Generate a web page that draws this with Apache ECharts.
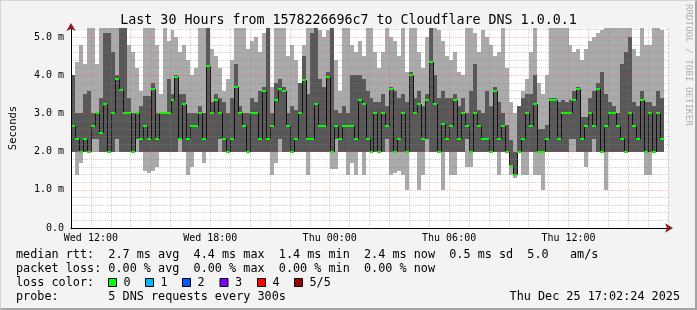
<!DOCTYPE html>
<html><head><meta charset="utf-8">
<script src="https://cdn.jsdelivr.net/npm/echarts@6/dist/echarts.min.js"></script>
<style>
html,body{margin:0;padding:0;background:#f3f3f3;}
#wrap{position:relative;width:697px;height:310px;}
#chart{width:697px;height:310px;}
#frame{position:absolute;left:0;top:0;width:697px;height:310px;box-sizing:border-box;border-style:solid;border-width:1px 2px 2px 1px;border-color:#d4d4d4 #a3a3a3 #a3a3a3 #d4d4d4;pointer-events:none;}
</style></head><body>
<div id="wrap"><div id="chart"></div><div id="frame"></div></div>
<script>
// ---- data (ms), one entry per 12-minute step starting Wed 11:00 ----
const START_HOUR = 11;
const STEP_HOURS = 0.2;

const medianRtt = [
  2.67,2.33,2.0,2.33,2.0,2.67,3.0,2.5,3.25,2.0, 3.0,3.9,3.62,3.0,3.0,2.0,3.0,2.33,2.67,2.33,
  3.63,2.33,3.0,3.0,3.0,3.35,3.96,2.33,3.25,2.33, 2.67,2.67,3.0,2.33,4.25,3.0,3.35,3.0,
  2.33,2.0,2.33,3.7,3.0,2.67,2.0,3.0,3.0,2.33, 3.6,2.33,2.67,3.35,3.63,3.6,2.67,2.0,2.33,3.0,
  3.87,2.33,2.33,3.25,2.67,2.67,3.96,2.0,2.67,2.33, 2.67,2.67,2.67,2.33,3.35,3.25,2.33,2.0,3.0,
  2.0,3.0,2.67,3.63,2.0,2.33,3.0,2.0,4.0,3.0, 3.25,2.33,3.35,4.35,3.25,2.0,2.72,2.33,2.67,3.35,
  2.33,3.0,2.67,2.0,3.0,2.67,2.33,2.33,2.0,3.6, 2.33,2.67,2.0,1.62,1.38,2.0,2.33,3.0,
  2.67,3.25,2.0,2.0,2.33,3.35,3.35,2.33,3.0,3.0, 3.0,3.35,3.63,2.33,2.67,3.0,2.67,3.63,2.0,2.67,
  3.0,3.0,2.67,2.33,2.0,3.0,2.67,2.33,3.35,2.0, 3.0,2.0,3.0,2.33
];
const smokeLow = [
  2.0,1.4,1.7,2.0,2.0,2.0,2.0,2.0,2.0,2.0, 2.0,2.0,2.0,2.0,2.0,2.0,2.0,2.0,1.5,1.45,
  1.5,1.6,2.0,2.0,2.0,2.0,2.0,2.0,2.0,1.4, 1.6,2.0,2.0,1.7,2.0,2.0,2.0,2.0,
  2.0,2.0,2.0,2.0,2.0,2.0,2.0,2.0,2.0,2.0, 2.0,2.0,1.4,1.7,2.0,2.0,2.0,2.0,2.0,2.0,
  2.0,1.4,2.0,2.0,2.0,2.0,2.0,1.55,1.55,2.0, 2.0,1.4,1.7,1.4,2.0,1.4,2.0,2.0,2.0,
  2.0,2.0,2.0,1.4,1.45,1.5,1.4,1.0,2.0,2.0, 1.0,1.4,2.0,2.0,2.0,2.0,1.0,2.0,1.4,1.4,
  2.0,2.0,1.6,1.6,2.0,2.0,2.0,2.0,2.0,2.0, 1.4,2.0,2.0,1.4,1.3,2.0,1.4,1.4,
  2.0,1.4,1.4,1.0,2.0,2.0,2.0,2.0,2.0,2.0, 2.0,2.0,2.0,2.0,1.6,2.0,2.0,2.0,2.0,1.0,
  2.0,2.0,2.0,2.0,2.0,2.0,2.0,2.0,2.0,1.4, 1.4,2.0,2.0,2.0
];
const smokeInnerLow = [
  2.0,2.0,2.0,2.0,2.0,2.33,2.33,2.0,2.0,2.0, 2.0,2.33,2.0,2.0,2.0,2.0,2.33,2.0,2.0,2.0,
  2.0,2.0,2.0,2.0,2.0,2.0,2.0,2.33,2.0,2.0, 2.0,2.0,2.0,2.0,2.0,2.0,2.0,2.33,
  2.0,2.0,2.0,2.0,2.0,2.0,2.0,2.0,2.0,2.0, 2.0,2.0,2.0,2.0,2.33,2.0,2.0,2.0,2.0,2.0,
  2.0,2.0,2.0,2.0,2.0,2.0,2.0,2.0,2.33,2.0, 2.0,2.0,2.0,2.0,2.0,2.0,2.0,2.0,2.0,
  2.0,2.0,2.33,2.0,2.0,2.0,2.0,2.0,2.0,2.0, 2.0,2.0,2.33,2.0,2.0,2.0,2.0,2.0,2.0,2.0,
  2.0,2.0,2.33,2.0,2.0,2.0,2.0,2.0,2.0,2.0, 2.0,2.0,2.0,1.6,1.35,2.0,2.0,2.0,
  2.0,2.0,2.0,2.0,2.0,2.0,2.0,2.0,2.0,2.0, 2.33,2.33,2.0,2.0,2.0,2.0,2.33,2.0,2.0,2.0,
  2.0,2.0,2.0,2.0,2.0,2.0,2.0,2.0,2.0,2.0, 2.0,2.0,2.0,2.0
];
const smokeInnerHigh = [
  4.0,3.0,3.0,3.5,3.6,3.0,3.0,3.4,5.1,5.1, 4.6,4.0,5.3,5.3,3.4,3.0,3.0,3.2,3.45,3.45,
  3.8,3.0,3.0,3.05,3.9,3.5,4.0,3.5,3.5,3.0, 3.0,3.0,3.2,3.0,5.3,3.3,3.5,3.4,
  3.3,3.0,3.4,4.3,3.2,3.0,3.0,3.4,3.3,3.6, 3.7,5.3,3.0,3.8,3.9,3.7,3.0,3.2,3.1,3.8,
  4.5,3.5,5.1,5.3,3.9,3.7,4.1,5.3,3.1,3.0, 3.2,3.0,4.0,4.0,4.0,3.9,3.6,3.4,3.3,
  3.3,3.5,3.2,3.7,3.6,3.4,3.5,3.3,4.1,3.4, 3.6,3.2,3.5,5.3,4.0,3.4,3.6,3.4,3.4,3.5,
  3.2,3.4,3.0,3.6,4.3,3.1,3.0,3.6,3.2,3.7, 3.3,3.0,2.7,2.3,2.0,3.2,3.4,3.5,
  3.5,4.0,2.6,2.6,2.7,3.4,3.4,3.3,3.35,3.3, 3.35,3.6,3.7,2.9,2.9,3.4,3.6,3.8,4.1,3.5,
  3.3,3.2,3.0,4.3,4.6,5.0,3.3,3.2,3.6,3.3, 3.3,3.2,3.6,3.4
];
const smokeHigh = [
  4.0,4.35,4.8,4.3,5.3,5.3,4.3,5.3,5.3,5.3, 5.3,5.3,5.3,5.3,4.8,4.6,4.2,3.6,5.3,5.3,
  5.3,4.8,3.5,5.3,4.9,5.2,5.0,4.6,4.8,4.4, 4.0,4.2,5.3,5.3,5.3,4.7,4.5,4.2,
  3.6,3.9,4.4,5.3,5.3,5.3,4.7,4.9,5.0,4.6, 5.1,5.3,3.7,5.3,5.3,5.3,4.5,4.8,4.4,3.8,
  4.8,5.3,5.3,5.3,5.2,5.0,5.2,5.3,4.4,3.6, 5.3,5.3,4.8,4.6,4.9,4.5,5.3,5.3,4.6,
  4.2,4.6,5.3,5.0,4.9,4.5,5.3,4.1,5.3,5.3, 4.6,4.2,5.0,5.3,5.3,5.2,4.9,4.5,4.4,4.6,
  4.1,4.0,5.3,5.3,5.1,4.6,5.2,5.0,4.8,4.5, 4.6,5.3,4.2,3.3,3.0,3.2,3.6,3.9,
  4.6,5.3,3.8,3.5,4.0,5.3,5.3,5.3,5.3,5.3, 4.8,4.6,4.7,4.4,4.7,4.9,5.0,5.1,5.2,5.3,
  5.3,5.3,5.3,5.3,5.3,5.3,4.7,4.5,5.3,4.8, 4.8,5.3,5.3,5.2
];

// ---- axes / text ----
const xTickHours = [12, 18, 24, 30, 36];
const xTickLabels = ['Wed 12:00', 'Wed 18:00', 'Thu 00:00', 'Thu 06:00', 'Thu 12:00'];
const yTickValues = [0, 1, 2, 3, 4, 5];
const yTickLabels = ['0.0', '1.0 m', '2.0 m', '3.0 m', '4.0 m', '5.0 m'];
const TITLE = 'Last 30 Hours from 1578226696c7 to Cloudflare DNS 1.0.0.1';
const legendLines = [
  'median rtt:  2.7 ms avg  4.4 ms max  1.4 ms min  2.4 ms now  0.5 ms sd  5.0   am/s',
  'packet loss: 0.00 % avg  0.00 % max  0.00 % min  0.00 % now',
  'loss color:',
  'probe:       5 DNS requests every 300s'
];
const lossLabels = ['0', '1', '2', '3', '4', '5/5'];
const lossColors = ['#00ff00', '#00b8ff', '#0059ff', '#7e00ff', '#ff0000', '#a10000'];
const DATE_TEXT = 'Thu Dec 25 17:02:24 2025';
const CREDIT = 'RRDTOOL / TOBI OETIKER';

const MONO = '"DejaVu Sans Mono", monospace';
const LIGHT = '#aaaaaa', DARK = '#585858';

const data = medianRtt.map((m, i) => [
  START_HOUR + i * STEP_HOURS, smokeLow[i], smokeInnerLow[i], m,
  smokeInnerHigh[i], smokeHigh[i], i > 0 ? medianRtt[i - 1] : m
]);

function renderItem(params, api) {
  const t = api.value(0);
  const cs = params.coordSys;
  const box = { x: cs.x, y: cs.y, width: cs.width, height: cs.height };
  const x0 = Math.round(api.coord([t, 0])[0]);
  const x1 = Math.round(api.coord([t + STEP_HOURS, 0])[0]);
  const y = v => api.coord([t, v])[1];
  const rect = (a, b) => echarts.graphic.clipRectByRect(
    { x: x0, y: Math.round(y(b)), width: x1 - x0, height: Math.round(y(a)) - Math.round(y(b)) }, box);
  const ym = Math.round(y(api.value(3)));
  const yp = Math.round(y(api.value(6)));
  const children = [];
  const r1 = rect(api.value(1), api.value(5));
  if (r1) children.push({ type: 'rect', shape: r1, style: { fill: LIGHT } });
  const r2 = rect(api.value(2), api.value(4));
  if (r2) children.push({ type: 'rect', shape: r2, style: { fill: DARK } });
  children.push({ type: 'line', shape: { x1: x0 + 0.5, y1: yp, x2: x0 + 0.5, y2: ym }, style: { stroke: '#111', lineWidth: 1 } });
  children.push({ type: 'line', shape: { x1: x0, y1: ym, x2: x1, y2: ym }, style: { stroke: '#00ff00', lineWidth: 2 } });
  return { type: 'group', children };
}

const graphics = [];
legendLines.forEach((txt, k) => {
  graphics.push({ type: 'text', left: 16, top: 249 + k * 14, style: { text: txt, font: '11.8px ' + MONO, fill: '#000' } });
});
const sqX = [108, 145, 182, 219.5, 257, 294];
lossLabels.forEach((lab, k) => {
  graphics.push({ type: 'rect', shape: { x: sqX[k] + 0.5, y: 278.5, width: 8, height: 8 }, style: { fill: lossColors[k], stroke: '#000', lineWidth: 1 } });
  graphics.push({ type: 'text', left: sqX[k] + 15.5, top: 277, style: { text: lab, font: '11.8px ' + MONO, fill: '#000' } });
});
graphics.push({ type: 'text', right: 17, top: 291, style: { text: DATE_TEXT, font: '11.8px ' + MONO, fill: '#000' } });
graphics.push({ type: 'text', x: 693, y: 4, rotation: -Math.PI / 2, style: { text: CREDIT, font: '9.2px ' + MONO, fill: '#b0b0b0' } });

const GRAY = 'rgba(128,128,128,0.38)', RED = 'rgba(255,60,60,0.34)';
const chart = echarts.init(document.getElementById('chart'));
chart.setOption({
  animation: false,
  backgroundColor: '#f3f3f3',
  title: { text: TITLE, left: 'center', top: 9, textStyle: { fontFamily: MONO, fontSize: 13.3, fontWeight: 'normal', color: '#000' } },
  grid: { left: 67, right: 29, top: 28, bottom: 82, show: true, backgroundColor: '#ffffff', borderWidth: 0 },
  xAxis: [{
    type: 'value', min: 11, max: 41, interval: 1, z: 6,
    axisLine: { show: true, onZero: false, lineStyle: { color: '#000', width: 1 } },
    axisTick: { show: false },
    axisLabel: { margin: 5, fontFamily: MONO, fontSize: 10, color: '#000',
      formatter: v => { const k = xTickHours.findIndex(h => Math.abs(h - v) < 1e-6); return k >= 0 ? xTickLabels[k] : ''; } },
    splitLine: { show: true, showMinLine: true, lineStyle: { color: [GRAY, RED, GRAY], type: [1, 1], width: 1 } }
  }, {
    type: 'value', min: 11, max: 41, interval: 1, position: 'bottom', z: 7,
    axisLine: { show: true, onZero: false, symbol: ['none', 'arrow'], symbolSize: [7, 8], symbolOffset: [0, 5], lineStyle: { color: '#8b1c1c', width: 0 } },
    axisTick: { show: false }, axisLabel: { show: false }, splitLine: { show: false }
  }],
  yAxis: [{
    type: 'value', min: 0, max: 5.24, interval: 0.2, z: 6,
    name: 'Seconds', nameLocation: 'middle', nameGap: 52,
    nameTextStyle: { fontFamily: MONO, fontSize: 10.5, color: '#000' },
    axisLine: { show: true, onZero: false, lineStyle: { color: '#000', width: 1 } },
    axisTick: { show: false },
    axisLabel: { margin: 7, fontFamily: MONO, fontSize: 10, color: '#000',
      formatter: v => { const k = yTickValues.findIndex(h => Math.abs(h - v) < 1e-6); return k >= 0 ? yTickLabels[k] : ''; } },
    splitLine: { show: true, showMaxLine: false, lineStyle: { color: [RED, GRAY, GRAY, GRAY, GRAY], type: [1, 1], width: 1 } }
  }, {
    type: 'value', min: 0, max: 5.24, interval: 0.2, position: 'left', z: 7,
    axisLine: { show: true, onZero: false, symbol: ['none', 'arrow'], symbolSize: [7, 8], symbolOffset: [0, 5], lineStyle: { color: '#8b1c1c', width: 0 } },
    axisTick: { show: false }, axisLabel: { show: false }, splitLine: { show: false }
  }],
  series: [{
    type: 'custom', renderItem, data, clip: true,
    encode: { x: 0, y: [1, 2, 3, 4, 5] }, z: 2
  }],
  graphic: graphics
});
</script>
</body></html>
